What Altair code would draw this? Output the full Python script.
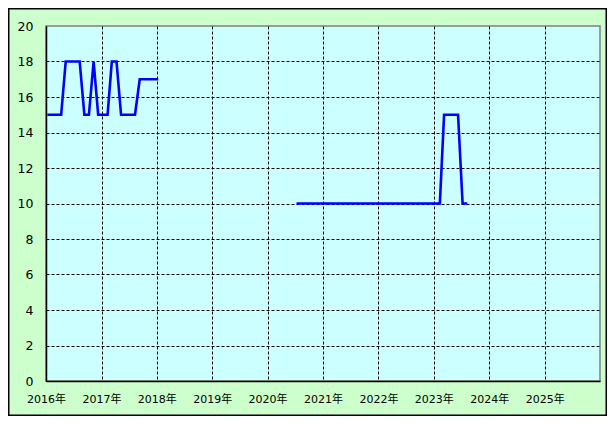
import altair as alt
import pandas as pd

# Series 1: monthly values Jan 2016 - Jan 2018
seg1_start = "2016-01-10"
seg1_values = [15, 15, 15, 15, 18, 18, 18, 18, 15, 15, 18, 15,
               15, 15, 18, 18, 15, 15, 15, 15, 17, 17, 17, 17,
               17]
# Series 2: monthly values Jul 2020 - Aug 2023
seg2_start = "2020-07-10"
seg2_values = [10, 10, 10, 10, 10, 10,
               10, 10, 10, 10, 10, 10, 10, 10, 10, 10, 10, 10,
               10, 10, 10, 10, 10, 10, 10, 10, 10, 10, 10, 10,
               10, 10, 15, 15, 15, 15, 10, 10]

year_ticks = list(range(2016, 2026))
y_ticks = list(range(0, 21, 2))


def months_from(start, n):
    base = pd.Timestamp(start)
    return [base + pd.DateOffset(months=i) for i in range(n)]


df = pd.concat([
    pd.DataFrame({"date": months_from(seg1_start, len(seg1_values)),
                  "value": seg1_values, "seg": "a"}),
    pd.DataFrame({"date": months_from(seg2_start, len(seg2_values)),
                  "value": seg2_values, "seg": "b"}),
])

grid_common = dict(
    grid=True,
    gridColor="#000000",
    gridDash=[3, 2],
    gridWidth=1,
    tickSize=0,
    domainColor="#000000",
    domainWidth=1.5,
    title=None,
    labelColor="#000000",
    labelFlush=False,
)

x_enc = alt.X(
    "date:T",
    scale=alt.Scale(domain=[alt.DateTime(year=2016, month=1, date=1),
                            alt.DateTime(year=2026, month=1, date=1)]),
    axis=alt.Axis(
        values=[alt.DateTime(year=y, month=1, date=1) for y in year_ticks],
        format="%Y年",
        labelFont="DejaVu Sans, Noto Sans CJK JP",
        labelFontSize=11,
        labelPadding=12,
        labelOverlap=False,
        gridOpacity=1,
        **grid_common,
    ),
)
y_enc = alt.Y(
    "value:Q",
    scale=alt.Scale(domain=[0, 20], nice=False),
    axis=alt.Axis(
        values=y_ticks,
        labelFont="DejaVu Sans",
        labelFontSize=12.5,
        labelPadding=13,
        gridOpacity={"condition": {"test": "datum.value >= 20", "value": 0},
                     "value": 1},
        **grid_common,
    ),
)

line = alt.Chart(df).mark_line(color="#0000ff", strokeWidth=2.6).encode(
    x=x_enc, y=y_enc, detail="seg:N"
)

border = alt.Chart(pd.DataFrame({"k": [0]})).mark_rect(
    fill=None, stroke="#000000", strokeWidth=1.5, clip=False
).encode(
    x=alt.value(-37.25), x2=alt.value(560.25),
    y=alt.value(-17.25), y2=alt.value(389.25),
)

chart = alt.layer(line, border).properties(
    width=554,
    height=355,
    background="#ccffcc",
    padding={"left": 38, "top": 18, "right": 7, "bottom": 35},
    autosize=alt.AutoSizeParams(type="none"),
).configure_view(
    fill="#ccffff",
    stroke="#808080",
    strokeWidth=1.5,
)

chart.save("out.html", embed_options={"renderer": "svg", "actions": False})
